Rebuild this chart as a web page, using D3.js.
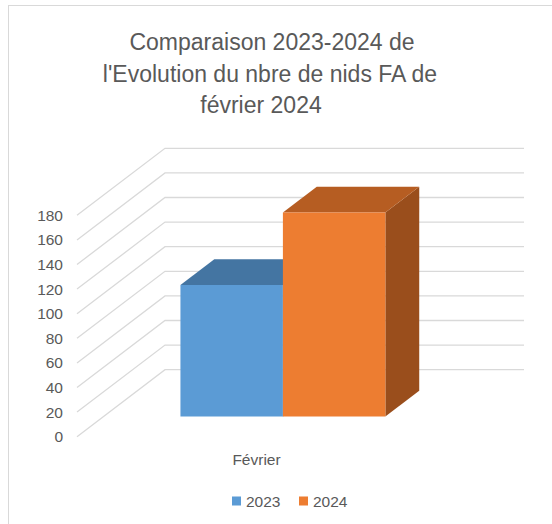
<!DOCTYPE html>
<html><head><meta charset="utf-8">
<script src="https://cdn.jsdelivr.net/npm/d3@7"></script>
<style>
html,body{margin:0;padding:0;background:#fff;}
svg{display:block;}
text{font-family:"Liberation Sans",Arial,sans-serif;fill:#595959;}
</style></head>
<body>
<svg id="chart" width="552" height="524"></svg>
<script>
// ---- data ----
const titleLines = ["Comparaison 2023-2024 de", "l'Evolution du nbre de nids FA de", "février 2024"];
const categories = ["Février"];
const seriesNames = ["2023", "2024"];
const values2023 = [107];
const values2024 = [166];
const tickValues = [0, 20, 40, 60, 80, 100, 120, 140, 160, 180];

// ---- styles / layout ----
const colors = {
  "2023": {front: "#5B9BD5", top: "#4475A2", side: "#3E6B95"},
  "2024": {front: "#ED7D31", top: "#B65D22", side: "#9A4E1C"}
};
const gridColor = "#D9D9D9";
const DX = 88, DY = -67;          // full depth offset of the back wall
const barD0 = 0.3, barD1 = 0.685; // bar depth span (fraction of full depth)

const svg = d3.select("#chart");

// chart area border
svg.append("rect").attr("x", 8.5).attr("y", 5.5).attr("width", 600).attr("height", 600)
  .attr("fill", "#fff").attr("stroke", gridColor).attr("stroke-width", 1);

// title
const titleX = [272, 270, 261];
svg.append("g").selectAll("text").data(titleLines).join("text")
  .attr("x", (d, i) => titleX[i])
  .attr("y", (d, i) => 50 + i * 31.5)
  .attr("text-anchor", "middle")
  .style("font-size", "23px")
  .text(d => d);

// scales (front plane)
const y = d3.scaleLinear().domain([0, 180]).range([436.7, 215.3]);
const x0 = d3.scaleBand().domain(categories).range([77, 436]).paddingInner(0).paddingOuter(0.376);
const x1 = d3.scaleBand().domain(seriesNames).range([0, x0.bandwidth()]).padding(0);

const P = (xf, v, d) => [xf + DX * d, y(v) + DY * d];

// gridlines: side wall + back wall
const xLeft = x0.range()[0], xRight = x0.range()[1];
const grid = svg.append("g").attr("stroke", gridColor).attr("stroke-width", 1.3).attr("fill", "none");
grid.selectAll("path").data(tickValues).join("path")
  .attr("d", v => {
    const a = P(xLeft, v, 0), b = P(xLeft, v, 1), c = P(xRight, v, 1);
    return `M${a[0]},${a[1]}L${b[0]},${b[1]}L${c[0]},${c[1]}`;
  });

// tick labels
svg.append("g").selectAll("text").data(tickValues).join("text")
  .attr("x", 63).attr("y", v => y(v))
  .attr("text-anchor", "end").attr("dominant-baseline", "central")
  .style("font-size", "15.5px")
  .text(v => v);

// bars
const rows = categories.map((c, i) => ({cat: c, vals: [
  {s: "2023", v: values2023[i]}, {s: "2024", v: values2024[i]}]}));
const poly = pts => "M" + pts.map(p => p.join(",")).join("L") + "Z";
rows.forEach(r => {
  r.vals.forEach(b => {
    const xl = x0(r.cat) + x1(b.s), xr = xl + x1.bandwidth();
    const g = svg.append("g");
    // side
    g.append("path").attr("fill", colors[b.s].side)
      .attr("d", poly([P(xr, 0, barD0), P(xr, 0, barD1), P(xr, b.v, barD1), P(xr, b.v, barD0)]));
    // top
    g.append("path").attr("fill", colors[b.s].top)
      .attr("d", poly([P(xl, b.v, barD0), P(xl, b.v, barD1), P(xr, b.v, barD1), P(xr, b.v, barD0)]));
    // front
    g.append("path").attr("fill", colors[b.s].front)
      .attr("d", poly([P(xl, 0, barD0), P(xl, b.v, barD0), P(xr, b.v, barD0), P(xr, 0, barD0)]));
  });
});

// category label
svg.append("g").selectAll("text").data(categories).join("text")
  .attr("x", c => x0(c) + x0.bandwidth() / 2).attr("y", 459)
  .attr("text-anchor", "middle").attr("dominant-baseline", "central")
  .style("font-size", "15.5px")
  .text(c => c);

// legend
const legendX = [232, 299];
const lg = svg.append("g").selectAll("g").data(seriesNames).join("g")
  .attr("transform", (d, i) => `translate(${legendX[i]},501)`);
lg.append("rect").attr("x", 0).attr("y", -4.5).attr("width", 9).attr("height", 9)
  .attr("fill", d => colors[d].front);
lg.append("text").attr("x", 14).attr("y", 0).attr("dominant-baseline", "central")
  .style("font-size", "15.5px").text(d => d);
</script>
</body></html>
